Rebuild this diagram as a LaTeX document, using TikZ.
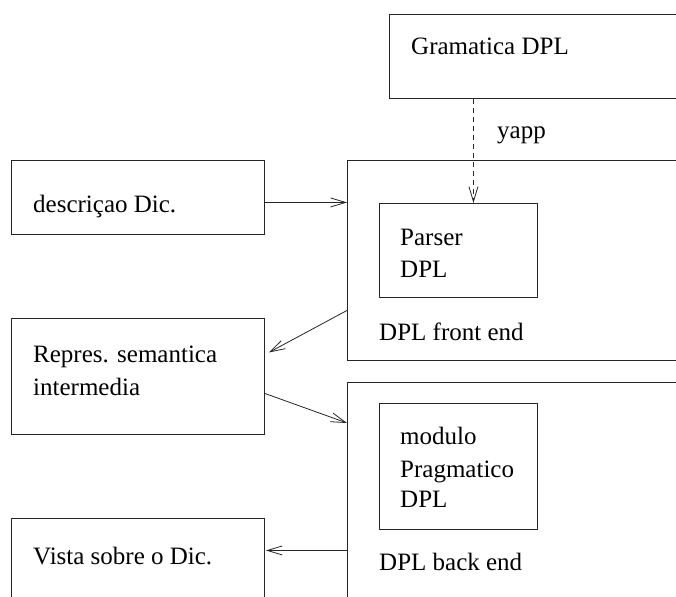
\documentclass[tikz,border=0pt]{standalone}
\usepackage{fontspec}
\setmainfont{Liberation Serif}
\usetikzlibrary{arrows.meta}
\begin{document}
\begin{tikzpicture}[x=1pt,y=-1pt,
  box/.style={draw=black!85,line width=0.9pt,rectangle,inner sep=0pt,anchor=north west},
  lbl/.style={anchor=base west,inner sep=0pt,font=\fontsize{25}{32}\selectfont},
  link/.style={draw=black!85,line width=0.8pt,-{Straight Barb[length=15pt,width=9pt,line width=0.8pt]}},
  dlink/.style={link,dash pattern=on 5pt off 4pt}]
\clip (0,0) rectangle (676,596);
\fill[white] (0,0) rectangle (676,596);

% boxes (right and bottom ones run past the edge)
\node[box,minimum width=320pt,minimum height=84pt] (gram) at (389,14) {};
\node[box,minimum width=360pt,minimum height=200pt] (front) at (347,160) {};
\node[box,minimum width=360pt,minimum height=238pt] (back) at (347,382) {};
\node[box,minimum width=158pt,minimum height=94pt] (parser) at (379,203) {};
\node[box,minimum width=158pt,minimum height=126pt] (modulo) at (379,403) {};
\node[box,minimum width=253pt,minimum height=74pt] (desc) at (11,160) {};
\node[box,minimum width=253pt,minimum height=116pt] (repres) at (11,318) {};
\node[box,minimum width=253pt,minimum height=102pt] (vista) at (11,518) {};

% labels
\node[lbl] (tgram) at (411,55) {Gramatica DPL};
\node[lbl] (tyapp) at (497,139) {yapp};
\node[lbl] (tdesc) at (33,212) {descriçao Dic.};
\node[lbl] (trep1) at (33,362) {Repres. semantica};
\node[lbl] (trep2) at (33,395) {intermedia};
\node[lbl] (tvista) at (33,564) {Vista sobre o Dic.};
\node[lbl] (tpar1) at (400,245) {Parser};
\node[lbl] (tpar2) at (400,277) {DPL};
\node[lbl] (tfront) at (379,340) {DPL front end};
\node[lbl] (tmod1) at (400,444) {modulo};
\node[lbl] (tmod2) at (400,477) {Pragmatico};
\node[lbl] (tmod3) at (400,507) {DPL};
\node[lbl] (tback) at (379,570) {DPL back end};

% connectors
\coordinate (dpin) at ([xshift=15pt]parser.north);
\draw[dlink] (gram.south -| dpin) -- (dpin);
\draw[link] ([yshift=-5pt]desc.east) -- ([yshift=-5pt]desc.east -| front.west);
\draw[link] ([yshift=-50pt]front.west) -- ([xshift=4pt,yshift=24pt]repres.east);
\draw[link] ([yshift=-17pt]repres.east) -- ([yshift=-41pt]back.north west);
\coordinate (bout) at ([yshift=-49pt]back.west);
\draw[link] (bout) -- ([xshift=1pt]bout -| vista.east);
\end{tikzpicture}
\end{document}
